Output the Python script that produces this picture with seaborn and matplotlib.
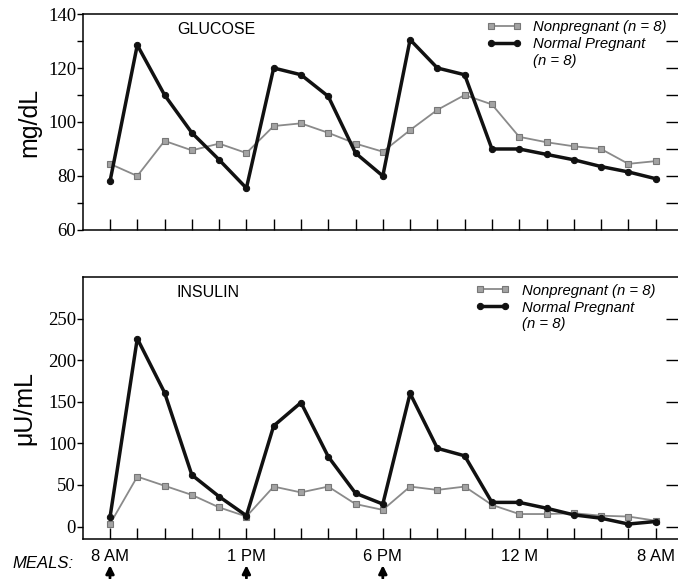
import numpy as np
import pandas as pd
import matplotlib
matplotlib.use('Agg')
import matplotlib.pyplot as plt
import seaborn as sns
from matplotlib.lines import Line2D
from matplotlib.ticker import MultipleLocator

# sample points (evenly spaced on the chart, 8 AM to 8 AM)
samples = list(range(21))
time_labels = ['8 AM', '', '', '', '', '1 PM', '', '', '', '', '6 PM',
               '', '', '', '', '12 M', '', '', '', '', '8 AM']
meal_samples = [0, 5, 10]

glucose_nonpreg = [84.5, 80, 93, 89.5, 92, 88.5, 98.5, 99.5, 96, 92, 89,
                   97, 104.5, 110, 106.5, 94.5, 92.5, 91, 90, 84.5, 85.5]
glucose_preg = [78, 128.5, 110, 96, 86, 75.5, 120, 117.5, 109.5, 88.5, 80,
                130.5, 120, 117.5, 90, 90, 88, 86, 83.5, 81.5, 79]

insulin_nonpreg = [3, 60, 49, 38, 23, 12, 48, 41, 48, 27, 20,
                   48, 44, 48, 26, 15, 15, 16, 13, 12, 7]
insulin_preg = [11, 226, 161, 62, 36, 13, 121, 149, 84, 40, 27,
                160, 94, 85, 29, 29, 22, 14, 10, 3, 6]

sns.set_style('ticks', rc={'axes.edgecolor': 'black', 'text.color': 'black',
                           'xtick.color': 'black', 'ytick.color': 'black',
                           'axes.labelcolor': 'black'})
plt.rcParams['font.family'] = ['Liberation Sans', 'DejaVu Sans']

fig = plt.figure(figsize=(6.78, 5.79), dpi=100)
ax1 = fig.add_axes([0.1224, 0.6028, 0.8776, 0.373])
ax2 = fig.add_axes([0.1224, 0.0691, 0.8776, 0.4525])


def draw(ax, nonpreg, preg):
    sns.lineplot(x=samples, y=nonpreg, ax=ax, color='#8a8a8a', lw=1.3,
                 marker='s', markersize=4, markerfacecolor='#a3a3a3',
                 markeredgecolor='#777777', markeredgewidth=0.8,
                 label='Nonpregnant (n = 8)')
    sns.lineplot(x=samples, y=preg, ax=ax, color='#111111', lw=2.5,
                 marker='o', markersize=4.5, markerfacecolor='#111111',
                 markeredgecolor='#111111', label='Normal Pregnant')
    ax.set_xlim(-0.99, 20.82)
    ax.set_xticks(samples)
    ax.tick_params(axis='x', direction='in', length=8, width=1, top=False)
    ax.tick_params(axis='y', which='both', direction='out', length=4,
                   width=1, labelsize=13.5, pad=1, right=False)
    ax.spines['right'].set_visible(False)
    for sp in ['left', 'top', 'bottom']:
        ax.spines[sp].set_linewidth(1.1)
    h, l = ax.get_legend_handles_labels()
    h.append(Line2D([], [], linestyle='none'))
    l.append('(n = 8)')
    return h, l


# glucose
h, l = draw(ax1, glucose_nonpreg, glucose_preg)
ax1.set_ylim(60, 140)
ax1.set_yticks(range(60, 141, 20))
ax1.yaxis.set_minor_locator(MultipleLocator(10))
ax1.set_xticklabels([])
ax1.set_ylabel('mg/dL', fontsize=18)
ax1.yaxis.set_label_coords(-0.07, 0.5)
ax1.text(0.225, 0.93, 'GLUCOSE', transform=ax1.transAxes, fontsize=11.5,
         ha='center', va='center')
ax1.legend(h, l, loc='upper left', bbox_to_anchor=(0.679, 0.97),
           frameon=False, prop={'style': 'italic', 'size': 10.7},
           handlelength=2.3, handletextpad=0.8, labelspacing=0.2,
           borderpad=0, borderaxespad=0, numpoints=2)
sec1 = ax1.secondary_yaxis('right')
sec1.set_yticks(range(70, 131, 10))
sec1.tick_params(direction='in', length=9, width=1, labelright=False)
for s in sec1.spines.values():
    s.set_visible(False)

# insulin
h, l = draw(ax2, insulin_nonpreg, insulin_preg)
ax2.set_ylim(-15, 300)
ax2.set_yticks(range(0, 251, 50))
ax2.set_xticklabels(time_labels, fontsize=12)
ax2.tick_params(axis='x', pad=7)
ax2.set_ylabel('μU/mL', fontsize=18)
ax2.yaxis.set_label_coords(-0.079, 0.5)
ax2.text(0.21, 0.941, 'INSULIN', transform=ax2.transAxes, fontsize=11.5,
         ha='center', va='center')
ax2.legend(h, l, loc='upper left', bbox_to_anchor=(0.66, 0.975),
           frameon=False, prop={'style': 'italic', 'size': 10.7},
           handlelength=2.3, handletextpad=0.8, labelspacing=0.2,
           borderpad=0, borderaxespad=0, numpoints=2)
sec2 = ax2.secondary_yaxis('right')
sec2.set_yticks(range(0, 251, 50))
sec2.tick_params(direction='in', length=9, width=1, labelright=False)
for s in sec2.spines.values():
    s.set_visible(False)

for ax in (ax1, ax2):
    for lab in ax.get_yticklabels():
        lab.set_family('Liberation Serif')

# meal arrows
for t in meal_samples:
    ax2.annotate('', xy=(t, -0.1), xytext=(t, -0.15),
                 xycoords=ax2.get_xaxis_transform(),
                 textcoords=ax2.get_xaxis_transform(),
                 arrowprops=dict(arrowstyle='-|>', color='black', lw=2,
                                 mutation_scale=12, shrinkA=0, shrinkB=0),
                 annotation_clip=False)
fig.text(12 / 678, 1 - 563 / 579, 'MEALS:', fontsize=12, style='italic',
         ha='left', va='center')

fig.savefig('out.png', dpi=100)
